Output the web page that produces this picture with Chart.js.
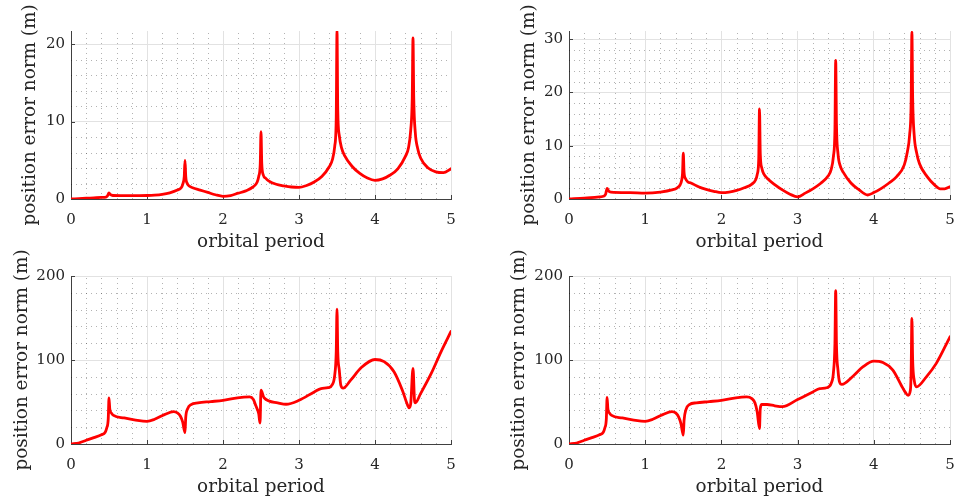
<!DOCTYPE html>
<html>
<head>
<meta charset="utf-8">
<title>Position error norm</title>
<script src="https://cdn.jsdelivr.net/npm/chart.js@4.4.1/dist/chart.umd.min.js"></script>
<style>
  html, body { margin: 0; padding: 0; background: #fff; }
  #figure { position: relative; width: 956px; height: 499px; overflow: hidden; }
  #figure canvas { position: absolute; left: 0; top: 0; }
</style>
</head>
<body>
<div id="figure">
  <canvas id="panelTL" width="956" height="499"></canvas>
  <canvas id="panelTR" width="956" height="499"></canvas>
  <canvas id="panelBL" width="956" height="499"></canvas>
  <canvas id="panelBR" width="956" height="499"></canvas>
</div>
<script>
// Shared axis data
const xTicks = [0, 1, 2, 3, 4, 5];
const xMinorStep = 0.2;
const xLabel = 'orbital period';
const yLabel = 'position error norm (m)';

// Top left panel
const tlX = [0, 0.1, 0.2, 0.3, 0.4, 0.46, 0.48, 0.5, 0.52, 0.55, 0.7, 0.9, 1.0, 1.1, 1.2, 1.3, 1.4, 1.45, 1.47, 1.49, 1.5,
  1.51, 1.53, 1.56, 1.6, 1.7, 1.8, 1.9, 2.0, 2.1, 2.2, 2.3, 2.4, 2.45, 2.47, 2.49, 2.5, 2.51, 2.53, 2.56, 2.6, 2.7, 2.8,
  2.9, 3.0, 3.1, 3.2, 3.3, 3.4, 3.44, 3.47, 3.49, 3.5, 3.51, 3.53, 3.56, 3.6, 3.7, 3.8, 3.9, 4.0, 4.1, 4.2, 4.3, 4.4,
  4.44, 4.47, 4.49, 4.5, 4.51, 4.53, 4.56, 4.6, 4.7, 4.8, 4.9, 5.0];
const tlY = [0, 0.05, 0.1, 0.15, 0.2, 0.25, 0.4, 0.78, 0.55, 0.45, 0.43, 0.43, 0.45, 0.5, 0.6, 0.8, 1.15, 1.45, 1.9, 2.9, 5.0,
  2.9, 2.0, 1.65, 1.45, 1.15, 0.85, 0.55, 0.35, 0.45, 0.75, 1.05, 1.6, 2.2, 2.9, 4.5, 8.7, 4.6, 3.1, 2.7, 2.35, 1.9, 1.7,
  1.55, 1.5, 1.75, 2.2, 2.9, 4.2, 5.1, 6.8, 10.5, 21.7, 11.5, 8.2, 6.6, 5.6, 4.2, 3.3, 2.7, 2.4, 2.6, 3.1, 3.9, 5.5,
  6.6, 8.9, 13.0, 20.8, 13.0, 8.6, 6.6, 5.3, 4.0, 3.5, 3.4, 3.9];
const tlYTicks = [0, 10, 20];
const tlYMax = 21.7;
const tlYMinorStep = 2;

// Top right panel
const trX = [0, 0.2, 0.4, 0.46, 0.48, 0.5, 0.52, 0.55, 0.8, 1.0, 1.2, 1.35, 1.42, 1.46, 1.48, 1.49, 1.5, 1.51, 1.53, 1.56,
  1.6, 1.7, 1.8, 1.9, 2.0, 2.1, 2.2, 2.3, 2.4, 2.45, 2.47, 2.49, 2.5, 2.51, 2.53, 2.56, 2.6, 2.7, 2.8, 2.9, 3.0, 3.1,
  3.2, 3.3, 3.4, 3.44, 3.47, 3.49, 3.5, 3.51, 3.53, 3.56, 3.6, 3.7, 3.8, 3.92, 4.0, 4.1, 4.2, 4.3, 4.4, 4.44, 4.47,
  4.49, 4.5, 4.51, 4.53, 4.56, 4.6, 4.7, 4.8, 4.87, 4.93, 5.0];
const trY = [0, 0.15, 0.4, 0.55, 0.9, 2.0, 1.5, 1.3, 1.2, 1.1, 1.3, 1.7, 2.1, 2.7, 3.6, 4.8, 8.6, 5.0, 3.8, 3.2,
  3.0, 2.3, 1.8, 1.45, 1.2, 1.3, 1.6, 2.1, 2.8, 3.6, 4.6, 7.5, 16.9, 8.5, 5.8, 4.6, 3.9, 2.7, 1.7, 0.9, 0.4, 1.1,
  1.9, 2.9, 4.3, 5.5, 8.0, 13.0, 26.0, 14.0, 8.5, 6.2, 5.0, 3.0, 1.8, 0.75, 1.2, 2.0, 3.0, 4.2, 6.4, 8.8, 12.0,
  18.0, 31.3, 19.0, 12.0, 8.8, 6.6, 4.2, 2.6, 1.9, 1.9, 2.3];
const trYTicks = [0, 10, 20, 30];
const trYMax = 31.5;
const trYMinorStep = 2;

// Bottom left panel
const blX = [0, 0.1, 0.2, 0.3, 0.4, 0.45, 0.47, 0.49, 0.5, 0.51, 0.53, 0.56, 0.7, 0.85, 1.0, 1.1, 1.23, 1.35, 1.4, 1.44,
  1.47, 1.5, 1.51, 1.535, 1.58, 1.67, 1.84, 2.0, 2.19, 2.35, 2.4, 2.43, 2.47, 2.487, 2.5, 2.54, 2.72, 2.83, 3.0, 3.2,
  3.29, 3.38, 3.44, 3.47, 3.49, 3.5, 3.51, 3.53, 3.55, 3.58, 3.68, 3.82, 4.0, 4.12, 4.25, 4.36, 4.43, 4.45, 4.47, 4.5,
  4.52, 4.53, 4.6, 4.74, 4.87, 5.0];
const blY = [0, 1.2, 4.4, 7.6, 11, 14, 19, 30, 55, 42, 37, 34, 31, 28.5, 27, 29.4, 35, 38.5, 37, 33,
  26, 13.5, 32, 42, 47, 49, 50.5, 52, 55, 56, 53, 46, 36, 25, 64, 55, 49, 47.3, 52, 62,
  66, 67, 71, 82, 110, 160.5, 110, 88, 70, 66.4, 76, 91, 100.6, 98, 86, 64, 46, 43, 48, 90,
  52, 49, 60, 84, 110, 134];
const blYTicks = [0, 100, 200];
const blYMax = 200;
const blYMinorStep = 20;

// Bottom right panel
const brX = [0, 0.1, 0.2, 0.3, 0.4, 0.45, 0.47, 0.49, 0.5, 0.51, 0.53, 0.56, 0.7, 0.85, 1.0, 1.1, 1.23, 1.35, 1.4, 1.44,
  1.47, 1.5, 1.51, 1.535, 1.58, 1.67, 1.84, 2.0, 2.19, 2.33, 2.4, 2.44, 2.47, 2.5, 2.51, 2.53, 2.6, 2.7, 2.8, 3.0,
  3.2, 3.29, 3.38, 3.44, 3.47, 3.49, 3.5, 3.51, 3.53, 3.55, 3.58, 3.73, 3.86, 4.0, 4.12, 4.25, 4.36, 4.41, 4.45, 4.48,
  4.49, 4.5, 4.51, 4.53, 4.56, 4.69, 4.82, 5.0];
const brY = [0, 1.2, 4.4, 7.6, 11, 14, 19, 30, 55.5, 42, 37, 34, 31, 28.5, 27, 29.4, 35, 38.5, 37, 32,
  24, 10.5, 28, 41, 47, 49, 50.5, 52, 55, 56, 54, 49, 38, 18.3, 42, 47, 47, 45.5, 44.5, 53,
  62, 66, 67, 72, 85, 120, 182.5, 118, 88, 74, 71, 81, 92, 98.6, 97, 88, 70, 62, 58, 64,
  85, 149.5, 100, 76, 68, 80, 96, 127.6];
const brYTicks = [0, 100, 200];
const brYMax = 200;
const brYMinorStep = 20;

const axisColor = '#404040';
const textColor = '#262626';
const gridColor = '#e2e2e2';
const minorColor = 'rgba(0, 0, 0, 0.3)';
const fontFamily = "'DejaVu Serif', serif";

/**
 * Dotted minor grid and inward tick marks, drawn with the chart's own scales
 */
const minorGrid = {
  id: 'minorGrid',
  beforeDatasetsDraw(chart, args, opts) {
    const { ctx, chartArea: area, scales: { x, y } } = chart;
    ctx.save();
    ctx.lineWidth = 1;
    ctx.strokeStyle = minorColor;
    ctx.setLineDash([1, 4]);

    const xCount = Math.round((x.max - x.min) / opts.xStep);
    for (let i = 1; i < xCount; i++) {
      const v = x.min + i * opts.xStep;
      if (opts.xMajor.some(m => Math.abs(m - v) < 1e-6)) continue;
      const px = Math.round(x.getPixelForValue(v)) + 0.5;
      ctx.beginPath();
      ctx.moveTo(px, area.bottom);
      ctx.lineTo(px, area.top);
      ctx.stroke();
    }

    const yCount = Math.floor((y.max - y.min) / opts.yStep + 1e-6);
    for (let i = 1; i <= yCount; i++) {
      const v = y.min + i * opts.yStep;
      if (opts.yMajor.some(m => Math.abs(m - v) < 1e-6)) continue;
      const py = Math.round(y.getPixelForValue(v)) + 0.5;
      ctx.beginPath();
      ctx.moveTo(area.left, py);
      ctx.lineTo(area.right, py);
      ctx.stroke();
    }

    // short ticks pointing into the plot
    ctx.setLineDash([]);
    ctx.strokeStyle = axisColor;
    opts.xMajor.forEach(v => {
      const px = Math.round(x.getPixelForValue(v)) + 0.5;
      ctx.beginPath();
      ctx.moveTo(px, area.bottom);
      ctx.lineTo(px, area.bottom - 4);
      ctx.stroke();
    });
    opts.yMajor.forEach(v => {
      const py = Math.round(y.getPixelForValue(v)) + 0.5;
      ctx.beginPath();
      ctx.moveTo(area.left, py);
      ctx.lineTo(area.left + 4, py);
      ctx.stroke();
    });
    ctx.restore();
  }
};

/**
 * Build one panel; frame holds where its plot area sits in the figure
 */
function makePanel(id, xs, ys, yTicks, yMax, yMinorStep, frame) {
  const points = xs.map((x, i) => ({ x: x, y: ys[i] }));

  return new Chart(document.getElementById(id), {
    type: 'line',
    data: {
      datasets: [{
        data: points,
        borderColor: '#ff0000',
        borderWidth: 2.8,
        borderJoinStyle: 'round',
        borderCapStyle: 'round',
        pointRadius: 0,
        cubicInterpolationMode: 'monotone',
        fill: false
      }]
    },
    options: {
      responsive: false,
      animation: false,
      events: [],
      layout: { padding: frame.padding },
      plugins: {
        legend: { display: false },
        tooltip: { enabled: false },
        minorGrid: { xStep: xMinorStep, yStep: yMinorStep, xMajor: xTicks, yMajor: yTicks }
      },
      scales: {
        x: {
          type: 'linear',
          min: 0,
          max: 5,
          afterBuildTicks: (scale) => { scale.ticks = xTicks.map(v => ({ value: v })); },
          afterFit: (scale) => {
            scale.height = frame.xHeight;
            // labels at the ends may hang over, the plot box stays put
            scale.paddingLeft = 0;
            scale.paddingRight = 0;
          },
          grid: { color: gridColor, lineWidth: 1, drawTicks: false },
          border: { color: axisColor, width: 1 },
          ticks: {
            color: textColor,
            font: { family: fontFamily, size: 15 },
            padding: 12,
            maxRotation: 0,
            autoSkip: false
          },
          title: {
            display: true,
            text: xLabel,
            color: textColor,
            font: { family: fontFamily, size: 18.4 },
            padding: { top: 0, bottom: frame.xTitlePad }
          }
        },
        y: {
          type: 'linear',
          min: 0,
          max: yMax,
          afterBuildTicks: (scale) => { scale.ticks = yTicks.map(v => ({ value: v })); },
          afterFit: (scale) => {
            scale.width = frame.yWidth;
            scale.paddingTop = 0;
            scale.paddingBottom = 0;
          },
          grid: { color: gridColor, lineWidth: 1, drawTicks: false },
          border: { color: axisColor, width: 1 },
          ticks: {
            color: textColor,
            font: { family: fontFamily, size: 15 },
            padding: 6
          },
          title: {
            display: true,
            text: yLabel,
            color: textColor,
            font: { family: fontFamily, size: 18.4 },
            padding: { top: frame.yTitlePad, bottom: 0 }
          }
        }
      }
    },
    plugins: [minorGrid]
  });
}

makePanel('panelTL', tlX, tlY, tlYTicks, tlYMax, tlYMinorStep, {
  padding: { left: 0, top: 31, right: 505, bottom: 239 }, yWidth: 71, xHeight: 61, yTitlePad: 19.5, xTitlePad: 7
});
makePanel('panelTR', trX, trY, trYTicks, trYMax, trYMinorStep, {
  padding: { left: 478, top: 31, right: 6, bottom: 239 }, yWidth: 91, xHeight: 61, yTitlePad: 40, xTitlePad: 7
});
makePanel('panelBL', blX, blY, blYTicks, blYMax, blYMinorStep, {
  padding: { left: 0, top: 276, right: 505, bottom: 0 }, yWidth: 71, xHeight: 55, yTitlePad: 11, xTitlePad: 1
});
makePanel('panelBR', brX, brY, brYTicks, brYMax, brYMinorStep, {
  padding: { left: 478, top: 276, right: 6, bottom: 0 }, yWidth: 91, xHeight: 55, yTitlePad: 30, xTitlePad: 1
});
</script>
</body>
</html>
